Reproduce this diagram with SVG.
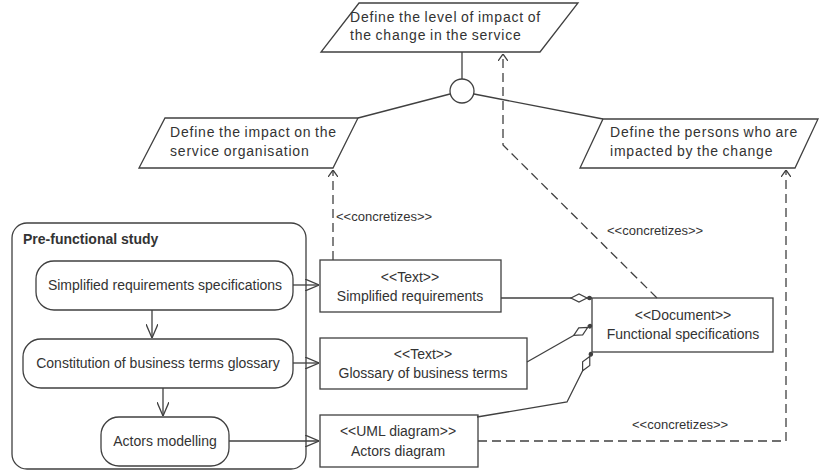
<svg xmlns="http://www.w3.org/2000/svg" width="821" height="472" viewBox="0 0 821 472">
<style>
.shape{fill:#ffffff;stroke:#404040;stroke-width:1.3}
.line{fill:none;stroke:#404040;stroke-width:1.3}
.dash{fill:none;stroke:#404040;stroke-width:1.3;stroke-dasharray:9 5}
.t{font-family:"Liberation Sans",Arial,sans-serif;font-size:14px;fill:#333333}
.tc{font-family:"Liberation Sans",Arial,sans-serif;font-size:14px;fill:#333333;text-anchor:middle}
.tp{font-family:"Liberation Sans",Arial,sans-serif;font-size:14px;fill:#333333;letter-spacing:0.8px;word-spacing:-1px}
.lbl{font-family:"Liberation Sans",Arial,sans-serif;font-size:13px;fill:#333333}
.title{font-family:"Liberation Sans",Arial,sans-serif;font-size:14px;font-weight:bold;fill:#333333}
</style>
<defs>
<marker id="open" viewBox="0 0 14 12" refX="14" refY="6" markerWidth="14" markerHeight="12" markerUnits="userSpaceOnUse" orient="auto">
<path d="M0,0 L14,6 L0,12" fill="none" stroke="#404040" stroke-width="1.3"/>
</marker>
<marker id="dopen" viewBox="0 0 7 10" refX="7" refY="5" markerWidth="7" markerHeight="10" markerUnits="userSpaceOnUse" orient="auto">
<path d="M0,0 L7,5 L0,10" fill="none" stroke="#404040" stroke-width="1.3"/>
</marker>
<marker id="agg" viewBox="0 0 23 10" refX="22" refY="5" markerWidth="23" markerHeight="10" markerUnits="userSpaceOnUse" orient="auto">
<polygon points="1,5 9,1 17,5 9,9" fill="#ffffff" stroke="#404040" stroke-width="1.2"/>
<circle cx="19.5" cy="5" r="2.3" fill="#404040"/>
</marker>
</defs>

<g id="n-level">
<polygon class="shape" points="359,3 578,3 540,52 321,52"/>
<text class="tp" x="350" y="22">Define the level of impact of</text>
<text class="tp" x="350" y="40">the change in the service</text>
</g>

<g id="n-join">
<circle class="shape" cx="462" cy="91" r="12"/>
</g>

<g id="n-org">
<polygon class="shape" points="165,118 358,118 333,168 139,168"/>
<text class="tp" x="170" y="137">Define the impact on the</text>
<text class="tp" x="170" y="156">service organisation</text>
</g>

<g id="n-persons">
<polygon class="shape" points="603,119 818,119 795,168 580,168"/>
<text class="tp" x="610" y="137">Define the persons who are</text>
<text class="tp" x="610" y="156">impacted by the change</text>
</g>

<g id="n-prefunctional">
<rect class="shape" x="12" y="223" width="294" height="246" rx="15" ry="15"/>
<text class="title" x="23" y="244">Pre-functional study</text>
</g>

<g id="n-act1">
<rect class="shape" x="36" y="261" width="257" height="49" rx="18" ry="18"/>
<text class="tc" x="165" y="290">Simplified requirements specifications</text>
</g>

<g id="n-act2">
<rect class="shape" x="23" y="339" width="270" height="49" rx="18" ry="18"/>
<text class="tc" x="158" y="368">Constitution of business terms glossary</text>
</g>

<g id="n-act3">
<rect class="shape" x="101" y="417" width="128" height="49" rx="18" ry="18"/>
<text class="tc" x="165" y="446">Actors modelling</text>
</g>

<g id="n-simpreq">
<rect class="shape" x="320" y="260" width="181" height="52"/>
<text class="tc" x="410" y="282">&lt;&lt;Text&gt;&gt;</text>
<text class="tc" x="410" y="301">Simplified requirements</text>
</g>

<g id="n-glossary">
<rect class="shape" x="320" y="338" width="207" height="51"/>
<text class="tc" x="423" y="359">&lt;&lt;Text&gt;&gt;</text>
<text class="tc" x="423" y="378">Glossary of business terms</text>
</g>

<g id="n-actorsdiag">
<rect class="shape" x="320" y="415" width="158" height="52"/>
<text class="tc" x="398" y="436">&lt;&lt;UML diagram&gt;&gt;</text>
<text class="tc" x="398" y="456">Actors diagram</text>
</g>

<g id="n-funcspec">
<rect class="shape" x="592" y="298" width="181" height="54"/>
<text class="tc" x="683" y="320">&lt;&lt;Document&gt;&gt;</text>
<text class="tc" x="683" y="339">Functional specifications</text>
</g>

<g id="connectors">
<line class="line" x1="462" y1="52" x2="462" y2="79"/>
<line class="line" x1="450" y1="94" x2="358" y2="118"/>
<line class="line" x1="474" y1="94" x2="603" y2="119"/>

<line class="line" x1="152" y1="310" x2="152" y2="338" marker-end="url(#open)"/>
<line class="line" x1="163" y1="388" x2="163" y2="416" marker-end="url(#open)"/>
<line class="line" x1="293" y1="285" x2="319" y2="285" marker-end="url(#open)"/>
<line class="line" x1="293" y1="363" x2="319" y2="363" marker-end="url(#open)"/>
<line class="line" x1="229" y1="441" x2="319" y2="441" marker-end="url(#open)"/>

<line class="line" x1="501" y1="298" x2="592" y2="298" marker-end="url(#agg)"/>
<line class="line" x1="527" y1="362" x2="592" y2="325" marker-end="url(#agg)"/>
<polyline class="line" points="477,417 567,402 592,352" marker-end="url(#agg)"/>

<line class="dash" x1="333" y1="260" x2="333" y2="170" marker-end="url(#dopen)"/>
<polyline class="dash" points="657,298 503,145 503,54" marker-end="url(#dopen)"/>
<polyline class="dash" points="478,441 786,441 786,170" marker-end="url(#dopen)"/>

<text class="lbl" x="336" y="221">&lt;&lt;concretizes&gt;&gt;</text>
<text class="lbl" x="607" y="235">&lt;&lt;concretizes&gt;&gt;</text>
<text class="lbl" x="632" y="429">&lt;&lt;concretizes&gt;&gt;</text>
</g>
</svg>
